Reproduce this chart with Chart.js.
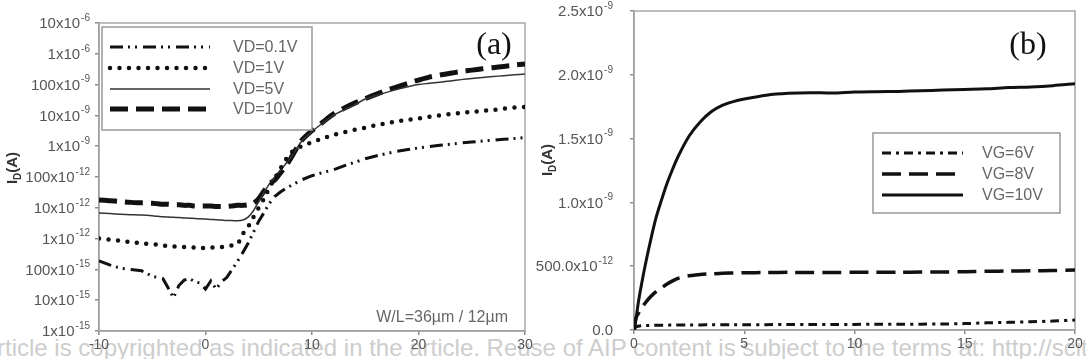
<!DOCTYPE html>
<html>
<head>
<meta charset="utf-8">
<script src="https://cdn.jsdelivr.net/npm/chart.js@4.4.1/dist/chart.umd.min.js"></script>
<style>
  html, body { margin: 0; padding: 0; background: #fff; }
  body { width: 1086px; height: 359px; position: relative; overflow: hidden; }
  #wm { position: absolute; left: -19px; top: 336px; font: 24px/1 "Liberation Sans", Arial, sans-serif;
        color: #cdcdcd; white-space: nowrap; }
  canvas { position: absolute; top: 0; }
  #chartA { left: 0; }
  #chartB { left: 530px; }
</style>
</head>
<body>
<div id="wm">Article is copyrighted as indicated in the article. Reuse of AIP content is subject to the terms at: http://scitation.aip.org/termsconditions.</div>
<canvas id="chartA" width="545" height="359"></canvas>
<canvas id="chartB" width="556" height="359"></canvas>
<script>
// ---- panel (a): transfer curves, I_D vs V_G (log scale) ----
const vgA = [-10, -9, -8, -7, -6, -5, -4.5, -4, -3.5, -3, -2.5, -2, -1.5, -1, -0.5, 0, 0.5, 1, 1.5, 2,
  2.5, 3, 3.5, 4, 4.5, 5, 5.5, 6, 6.5, 7, 7.5, 8, 9, 10, 11, 12, 13, 14, 15, 16, 17, 18, 19, 20,
  21, 22, 23, 24, 25, 26, 27, 28, 29, 30];
const idVd01 = [1.9e-13, 1.4e-13, 1.1e-13, 1e-13, 9e-14, 6e-14, 5.5e-14, 5e-14, 2.5e-14, 1.2e-14,
  3e-14, 4.5e-14, 5e-14, 4e-14, 3.6e-14, 2.3e-14, 4.2e-14, 2.3e-14, 4e-14, 5.5e-14,
  1e-13, 1.8e-13, 3.5e-13, 7e-13, 1.6e-12, 3.7e-12, 7e-12, 1.4e-11, 2.3e-11, 3.2e-11, 4.2e-11, 5.2e-11,
  8e-11, 1.1e-10, 1.4e-10, 1.7e-10, 2.3e-10, 3e-10, 3.9e-10, 4.8e-10, 5.8e-10, 6.8e-10, 7.8e-10, 8.8e-10,
  9.8e-10, 1.07e-9, 1.17e-9, 1.27e-9, 1.37e-9, 1.47e-9, 1.57e-9, 1.67e-9, 1.78e-9, 1.9e-9];
const idVd1 = [1e-12, 9.2e-13, 8.5e-13, 7.7e-13, 7e-13, 6.5e-13, 6.3e-13, 6e-13, 5.8e-13, 5.6e-13,
  5.4e-13, 5.3e-13, 5.2e-13, 5.1e-13, 5e-13, 5e-13, 5.1e-13, 5.2e-13, 5.3e-13, 5.5e-13,
  6e-13, 6.6e-13, 1.4e-12, 2.4e-12, 5e-12, 1e-11, 2e-11, 4.5e-11, 9e-11, 1.8e-10, 3.5e-10, 6e-10,
  1e-9, 1.35e-9, 1.8e-9, 2.3e-9, 2.8e-9, 3.4e-9, 4e-9, 4.8e-9, 5.6e-9, 6.4e-9, 7.2e-9, 8e-9,
  9e-9, 1e-8, 1.1e-8, 1.2e-8, 1.3e-8, 1.4e-8, 1.5e-8, 1.65e-8, 1.8e-8, 1.9e-8];
const idVd5 = [6.8e-12, 6.5e-12, 6.2e-12, 6e-12, 5.8e-12, 5.5e-12, 5.3e-12, 5.1e-12, 5e-12, 4.9e-12,
  4.8e-12, 4.7e-12, 4.6e-12, 4.5e-12, 4.4e-12, 4.3e-12, 4.2e-12, 4.1e-12, 4e-12, 3.9e-12,
  3.85e-12, 3.8e-12, 4e-12, 5e-12, 8e-12, 1.6e-11, 3.2e-11, 6e-11, 1e-10, 1.6e-10, 2.6e-10, 4.2e-10,
  1.4e-9, 3e-9, 5.6e-9, 1e-8, 1.5e-8, 2.2e-8, 3.4e-8, 4.4e-8, 5.6e-8, 7e-8, 8.5e-8, 1e-7,
  1.1e-7, 1.2e-7, 1.32e-7, 1.45e-7, 1.58e-7, 1.7e-7, 1.82e-7, 1.95e-7, 2.08e-7, 2.2e-7];
const idVd10 = [1.8e-11, 1.7e-11, 1.6e-11, 1.5e-11, 1.45e-11, 1.4e-11, 1.35e-11, 1.3e-11, 1.3e-11, 1.25e-11,
  1.25e-11, 1.2e-11, 1.2e-11, 1.15e-11, 1.15e-11, 1.15e-11, 1.15e-11, 1.1e-11, 1.1e-11, 1.1e-11,
  1.15e-11, 1.2e-11, 1.2e-11, 1.25e-11, 1.4e-11, 2e-11, 3.5e-11, 6e-11, 8e-11, 1.3e-10, 2.2e-10, 4e-10,
  1.5e-9, 3.2e-9, 6e-9, 1.1e-8, 1.7e-8, 2.5e-8, 3.5e-8, 4.8e-8, 6.5e-8, 8.5e-8, 1.1e-7, 1.4e-7,
  1.75e-7, 2.05e-7, 2.35e-7, 2.65e-7, 2.95e-7, 3.25e-7, 3.55e-7, 3.9e-7, 4.3e-7, 4.7e-7];
const labelsA = ['VD=0.1V', 'VD=1V', 'VD=5V', 'VD=10V'];
const xTicksA = [-10, 0, 10, 20, 30];
const yTicksA = [1e-15, 1e-14, 1e-13, 1e-12, 1e-11, 1e-10, 1e-9, 1e-8, 1e-7, 1e-6, 1e-5];
const yTickLabelsA = ['1x10^-15', '10x10^-15', '100x10^-15', '1x10^-12', '10x10^-12', '100x10^-12',
  '1x10^-9', '10x10^-9', '100x10^-9', '1x10^-6', '10x10^-6'];

// ---- panel (b): output curves, I_D vs V_D (linear) ----
const vdB = [0, 0.1, 0.2, 0.3, 0.5, 0.75, 1, 1.25, 1.5, 1.75, 2, 2.5, 3, 3.5, 4, 4.5, 5,
  6, 7, 8, 9, 10, 11, 12, 13, 14, 15, 16, 17, 18, 19, 20];
const idVg6 = [0, 0.025e-9, 0.03e-9, 0.033e-9, 0.035e-9, 0.036e-9, 0.037e-9, 0.038e-9, 0.038e-9, 0.039e-9,
  0.04e-9, 0.04e-9, 0.04e-9, 0.041e-9, 0.041e-9, 0.042e-9, 0.042e-9, 0.042e-9, 0.043e-9, 0.043e-9,
  0.044e-9, 0.044e-9, 0.045e-9, 0.045e-9, 0.046e-9, 0.047e-9, 0.05e-9, 0.056e-9, 0.06e-9, 0.065e-9,
  0.07e-9, 0.078e-9];
const idVg8 = [0, 0.1e-9, 0.13e-9, 0.16e-9, 0.21e-9, 0.26e-9, 0.3e-9, 0.33e-9, 0.36e-9, 0.385e-9,
  0.405e-9, 0.425e-9, 0.435e-9, 0.44e-9, 0.445e-9, 0.447e-9, 0.449e-9, 0.45e-9, 0.452e-9, 0.45e-9,
  0.451e-9, 0.452e-9, 0.452e-9, 0.453e-9, 0.454e-9, 0.455e-9, 0.457e-9, 0.46e-9, 0.462e-9, 0.464e-9,
  0.466e-9, 0.47e-9];
const idVg10 = [0, 0.1e-9, 0.22e-9, 0.32e-9, 0.5e-9, 0.7e-9, 0.88e-9, 1.02e-9, 1.15e-9, 1.26e-9,
  1.36e-9, 1.52e-9, 1.63e-9, 1.71e-9, 1.76e-9, 1.79e-9, 1.81e-9, 1.84e-9, 1.855e-9, 1.86e-9,
  1.857e-9, 1.865e-9, 1.868e-9, 1.87e-9, 1.875e-9, 1.88e-9, 1.885e-9, 1.89e-9, 1.9e-9, 1.905e-9,
  1.915e-9, 1.93e-9];
const labelsB = ['VG=6V', 'VG=8V', 'VG=10V'];
const xTicksB = [0, 5, 10, 15, 20];
const yTicksB = [0, 0.5e-9, 1e-9, 1.5e-9, 2e-9, 2.5e-9];
const yTickLabelsB = ['0.0', '500.0x10^-12', '1.0x10^-9', '1.5x10^-9', '2.0x10^-9', '2.5x10^-9'];

const FONT = '"Liberation Sans", Arial, sans-serif';
const SERIF = '"Liberation Serif", "Times New Roman", serif';
const AXIS_GREY = '#8a8a8a';
const TICK_GREY = '#555';

function points(xs, ys) {
  return xs.map((x, i) => ({ x: x, y: ys[i] }));
}

// draws "1x10" with the exponent raised, right-aligned next to the axis
function yTickLabels(values, labels, rightX) {
  return {
    id: 'yTickLabels',
    afterDraw(chart) {
      const ctx = chart.ctx;
      const scale = chart.scales.y;
      ctx.save();
      ctx.fillStyle = TICK_GREY;
      ctx.textAlign = 'right';
      ctx.textBaseline = 'middle';
      values.forEach((v, i) => {
        const py = scale.getPixelForValue(v);
        const parts = labels[i].split('^');
        let x = rightX;
        if (parts[1]) {
          ctx.font = '10px ' + FONT;
          ctx.fillText(parts[1], x, py - 5);
          x -= ctx.measureText(parts[1]).width + 1;
        }
        ctx.font = '15px ' + FONT;
        ctx.fillText(parts[0], x, py + 1);
      });
      ctx.restore();
    }
  };
}

// grey frame round the plot area
const frame = {
  id: 'frame',
  beforeDatasetsDraw(chart) {
    const a = chart.chartArea;
    const ctx = chart.ctx;
    ctx.save();
    ctx.strokeStyle = '#a8a8a8';
    ctx.lineWidth = 1.5;
    ctx.strokeRect(a.left, a.top, a.right - a.left, a.bottom - a.top);
    ctx.restore();
  }
};

// boxed legend drawn from the datasets' own line styles
function boxLegend(box, x1, x2, textX, rows, fontSize) {
  return {
    id: 'boxLegend',
    afterDraw(chart) {
      const ctx = chart.ctx;
      ctx.save();
      ctx.fillStyle = '#fff';
      ctx.fillRect(box[0], box[1], box[2], box[3]);
      ctx.strokeStyle = '#999';
      ctx.lineWidth = 1.5;
      ctx.strokeRect(box[0], box[1], box[2], box[3]);
      chart.data.datasets.forEach((ds, i) => {
        ctx.save();
        ctx.strokeStyle = ds.borderColor;
        ctx.lineWidth = ds.borderWidth;
        ctx.lineCap = ds.borderCapStyle || 'butt';
        ctx.setLineDash(ds.borderDash || []);
        ctx.beginPath();
        ctx.moveTo(x1, rows[i]);
        ctx.lineTo(x2, rows[i]);
        ctx.stroke();
        ctx.restore();
        ctx.fillStyle = '#666';
        ctx.font = fontSize + 'px ' + FONT;
        ctx.textAlign = 'left';
        ctx.textBaseline = 'middle';
        ctx.fillText(ds.label, textX, rows[i] + 1);
      });
      ctx.restore();
    }
  };
}

// rotated "I_D(A)" axis title and panel notes
function notes(titleX, titleY, items) {
  return {
    id: 'notes',
    afterDraw(chart) {
      const ctx = chart.ctx;
      ctx.save();
      ctx.translate(titleX, titleY);
      ctx.rotate(-Math.PI / 2);
      ctx.fillStyle = '#333';
      ctx.textBaseline = 'alphabetic';
      ctx.textAlign = 'left';
      ctx.font = 'bold 15px ' + FONT;
      const wI = ctx.measureText('I').width;
      const wA = ctx.measureText('(A)').width;
      ctx.font = 'bold 10px ' + FONT;
      const wD = ctx.measureText('D').width;
      let x = -(wI + wD + wA) / 2;
      ctx.font = 'bold 15px ' + FONT;
      ctx.fillText('I', x, 5);
      x += wI;
      ctx.font = 'bold 10px ' + FONT;
      ctx.fillText('D', x, 9);
      x += wD;
      ctx.font = 'bold 15px ' + FONT;
      ctx.fillText('(A)', x, 5);
      ctx.restore();

      items.forEach(it => {
        ctx.save();
        ctx.fillStyle = it.color;
        ctx.font = it.font;
        ctx.textAlign = it.align;
        ctx.textBaseline = 'middle';
        ctx.fillText(it.text, it.x, it.y);
        ctx.restore();
      });
    }
  };
}

function axisOpts(extra) {
  return Object.assign({
    grid: { drawOnChartArea: false, drawTicks: true, tickLength: 4, color: AXIS_GREY, lineWidth: 1.5 },
    border: { color: AXIS_GREY, width: 1.5 }
  }, extra);
}

const xTickFont = { family: FONT, size: 14 };

new Chart(document.getElementById('chartA'), {
  type: 'line',
  data: {
    datasets: [
      { label: labelsA[0], data: points(vgA, idVd01), borderColor: '#111', borderWidth: 3,
        borderDash: [13, 5, 2, 5, 2, 6], tension: 0 },
      { label: labelsA[1], data: points(vgA, idVd1), borderColor: '#111', borderWidth: 4.5,
        borderDash: [0, 9.5], borderCapStyle: 'round', tension: 0.3 },
      { label: labelsA[2], data: points(vgA, idVd5), borderColor: '#333', borderWidth: 1.5, tension: 0.3 },
      { label: labelsA[3], data: points(vgA, idVd10), borderColor: '#111', borderWidth: 5,
        borderDash: [18, 8], tension: 0.3 }
    ]
  },
  options: {
    responsive: false,
    animation: false,
    devicePixelRatio: 1,
    layout: { padding: { left: 0, right: 20, top: 23, bottom: 0 } },
    elements: { point: { radius: 0 } },
    plugins: { legend: { display: false }, tooltip: { enabled: false } },
    scales: {
      x: axisOpts({
        type: 'linear', min: -10, max: 30,
        afterBuildTicks: s => { s.ticks = xTicksA.map(v => ({ value: v })); },
        ticks: { color: TICK_GREY, font: xTickFont, padding: 2 },
        afterFit: s => { s.height = 28; }
      }),
      y: axisOpts({
        type: 'logarithmic', min: 1e-15, max: 1e-5,
        afterBuildTicks: s => { s.ticks = yTicksA.map(v => ({ value: v })); },
        ticks: { display: false },
        afterFit: s => { s.width = 99; }
      })
    }
  },
  plugins: [
    frame,
    yTickLabels(yTicksA, yTickLabelsA, 90),
    boxLegend([102, 27, 210, 103], 110, 210, 233, [47, 68, 89, 109], 16),
    notes(12, 168, [
      { text: '(a)', x: 494, y: 46, font: '32px ' + SERIF, color: '#111', align: 'center' },
      { text: 'W/L=36\u00b5m / 12\u00b5m', x: 508, y: 318, font: '16px ' + FONT, color: '#666', align: 'right' }
    ])
  ]
});

new Chart(document.getElementById('chartB'), {
  type: 'line',
  data: {
    datasets: [
      { label: labelsB[0], data: points(vdB, idVg6), borderColor: '#111', borderWidth: 3,
        borderDash: [9, 5, 3, 5], tension: 0.3 },
      { label: labelsB[1], data: points(vdB, idVg8), borderColor: '#111', borderWidth: 3.5,
        borderDash: [19, 8], tension: 0.3 },
      { label: labelsB[2], data: points(vdB, idVg10), borderColor: '#111', borderWidth: 3, tension: 0.3 }
    ]
  },
  options: {
    responsive: false,
    animation: false,
    devicePixelRatio: 1,
    layout: { padding: { left: 0, right: 11, top: 11, bottom: 0 } },
    elements: { point: { radius: 0 } },
    plugins: { legend: { display: false }, tooltip: { enabled: false } },
    scales: {
      x: axisOpts({
        type: 'linear', min: 0, max: 20,
        afterBuildTicks: s => { s.ticks = xTicksB.map(v => ({ value: v })); },
        ticks: { color: TICK_GREY, font: xTickFont, padding: 2 },
        afterFit: s => { s.height = 29; }
      }),
      y: axisOpts({
        type: 'linear', min: 0, max: 2.5e-9,
        afterBuildTicks: s => { s.ticks = yTicksB.map(v => ({ value: v })); },
        ticks: { display: false },
        afterFit: s => { s.width = 104; }
      })
    }
  },
  plugins: [
    frame,
    yTickLabels(yTicksB, yTickLabelsB, 83),
    boxLegend([343, 133, 187, 80], 352, 433, 452, [153, 174, 195], 16),
    notes(17, 160, [
      { text: '(b)', x: 498, y: 46, font: '32px ' + SERIF, color: '#111', align: 'center' }
    ])
  ]
});
</script>
</body>
</html>
